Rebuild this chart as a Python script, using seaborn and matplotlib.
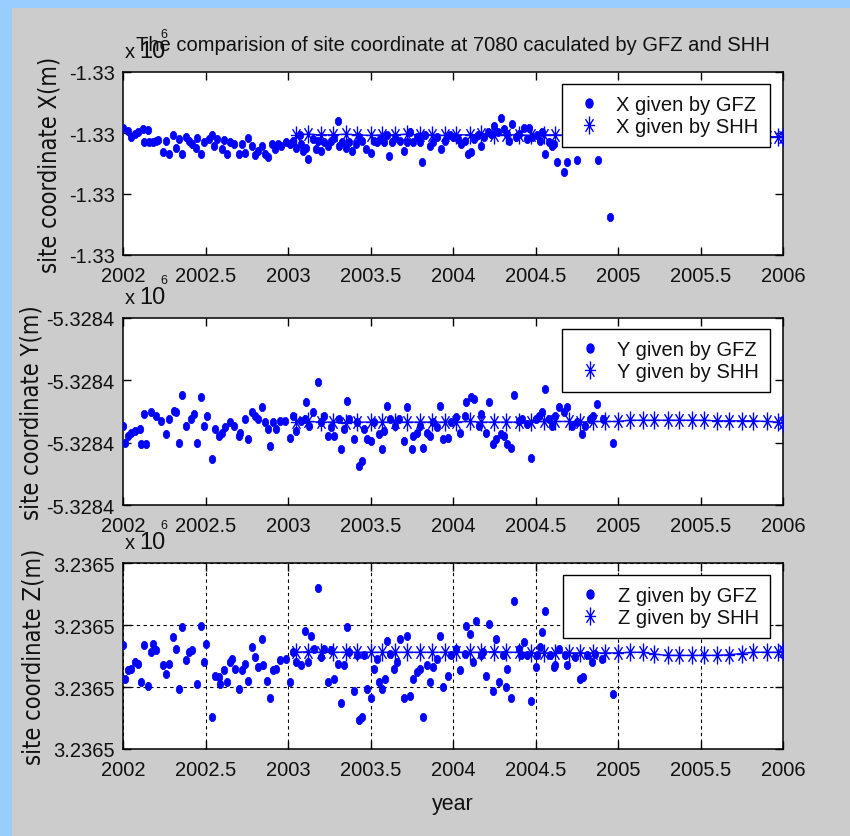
import numpy as np
import matplotlib
matplotlib.use("Agg")
import matplotlib.pyplot as plt
import seaborn as sns
from matplotlib.path import Path
from matplotlib.transforms import Affine2D
from matplotlib.lines import Line2D
from matplotlib.patches import Rectangle

# ---------------- data (values in relative axis units, 0..3 per panel) ----------------
gfz_x_years = [2002.00, 2002.03, 2002.05, 2002.07, 2002.09, 2002.12, 2002.13, 2002.15, 2002.16, 2002.18,
               2002.20, 2002.21, 2002.24, 2002.26, 2002.28, 2002.30, 2002.32, 2002.34, 2002.36, 2002.38,
               2002.40, 2002.42, 2002.44, 2002.45, 2002.47, 2002.49, 2002.52, 2002.54, 2002.55, 2002.57,
               2002.60, 2002.61, 2002.63, 2002.65, 2002.67, 2002.70, 2002.72, 2002.74, 2002.76, 2002.78,
               2002.80, 2002.82, 2002.84, 2002.86, 2002.88, 2002.90, 2002.92, 2002.94, 2002.96, 2002.99,
               2003.01, 2003.03, 2003.05, 2003.07, 2003.08, 2003.09, 2003.11, 2003.12, 2003.15, 2003.17,
               2003.18, 2003.20, 2003.22, 2003.24, 2003.26, 2003.28, 2003.30, 2003.31, 2003.33, 2003.35,
               2003.37, 2003.39, 2003.41, 2003.43, 2003.45, 2003.47, 2003.50, 2003.52, 2003.54, 2003.56,
               2003.58, 2003.60, 2003.61, 2003.63, 2003.65, 2003.68, 2003.70, 2003.72, 2003.74, 2003.76,
               2003.78, 2003.80, 2003.81, 2003.83, 2003.86, 2003.88, 2003.90, 2003.93, 2003.95, 2003.98,
               2004.00, 2004.03, 2004.05, 2004.07, 2004.09, 2004.11, 2004.13, 2004.15, 2004.17, 2004.19,
               2004.21, 2004.23, 2004.25, 2004.27, 2004.29, 2004.31, 2004.33, 2004.34, 2004.36, 2004.38,
               2004.40, 2004.43, 2004.45, 2004.46, 2004.48, 2004.51, 2004.53, 2004.54, 2004.56, 2004.58,
               2004.60, 2004.61, 2004.63, 2004.67, 2004.69, 2004.71, 2004.73, 2004.75, 2004.80, 2004.83,
               2004.86, 2004.88, 2004.92, 2004.95, 2004.98]
gfz_x_vals = [2.08, 2.04, 1.93, 1.98, 2.01, 2.06, 1.85, 2.05, 1.85, 1.85,
              1.87, 1.89, 1.69, 1.87, 1.66, 1.96, 1.75, 1.90, 1.66, 1.93,
              1.87, 1.82, 1.76, 1.91, 1.66, 1.85, 1.90, 1.97, 1.78, 1.90,
              1.73, 1.89, 1.66, 1.85, 1.82, 1.66, 1.82, 1.68, 1.91, 1.78,
              1.64, 1.71, 1.79, 1.66, 1.61, 1.82, 1.74, 1.82, 1.78, 1.85,
              1.82, 1.87, 1.75, 1.96, 1.82, 1.71, 1.75, 1.58, 1.90, 1.74,
              1.87, 1.71, 1.85, 1.79, 1.87, 1.91, 2.20, 1.79, 1.85, 1.75,
              1.85, 1.71, 1.82, 1.93, 1.87, 1.74, 1.68, 1.87, 1.85, 1.90,
              1.85, 1.96, 1.62, 1.85, 1.91, 1.87, 1.71, 1.85, 2.01, 1.85,
              1.93, 1.85, 1.52, 1.96, 1.79, 1.85, 1.93, 1.74, 1.87, 1.96,
              1.93, 1.90, 1.82, 1.87, 1.66, 1.69, 1.90, 1.96, 1.78, 1.93,
              2.01, 1.98, 2.12, 2.01, 2.24, 2.06, 1.98, 1.87, 2.15, 1.93,
              1.98, 2.09, 1.90, 2.09, 1.93, 1.96, 1.87, 2.01, 1.66, 1.85,
              1.79, 1.82, 1.52, 1.36, 1.52, 1.90, 1.85, 1.55, 1.93, 1.88,
              1.95, 1.55, 1.90, 0.62, 1.92]

gfz_y_years = [2002.00, 2002.01, 2002.03, 2002.05, 2002.07, 2002.10, 2002.11, 2002.13, 2002.14, 2002.17,
               2002.20, 2002.23, 2002.26, 2002.28, 2002.31, 2002.32, 2002.34, 2002.36, 2002.38, 2002.41,
               2002.43, 2002.45, 2002.47, 2002.49, 2002.51, 2002.54, 2002.56, 2002.58, 2002.60, 2002.62,
               2002.65, 2002.67, 2002.70, 2002.71, 2002.74, 2002.76, 2002.78, 2002.80, 2002.82, 2002.84,
               2002.86, 2002.88, 2002.89, 2002.91, 2002.93, 2002.95, 2002.98, 2003.01, 2003.03, 2003.05,
               2003.08, 2003.10, 2003.11, 2003.13, 2003.15, 2003.18, 2003.20, 2003.22, 2003.24, 2003.26,
               2003.28, 2003.31, 2003.32, 2003.34, 2003.36, 2003.37, 2003.40, 2003.42, 2003.43, 2003.45,
               2003.46, 2003.48, 2003.50, 2003.52, 2003.55, 2003.57, 2003.58, 2003.60, 2003.62, 2003.65,
               2003.67, 2003.70, 2003.72, 2003.75, 2003.76, 2003.78, 2003.80, 2003.82, 2003.84, 2003.86,
               2003.88, 2003.90, 2003.92, 2003.94, 2003.97, 2003.99, 2004.02, 2004.04, 2004.07, 2004.08,
               2004.11, 2004.13, 2004.16, 2004.17, 2004.20, 2004.22, 2004.24, 2004.26, 2004.29, 2004.31,
               2004.33, 2004.35, 2004.37, 2004.40, 2004.42, 2004.45, 2004.47, 2004.50, 2004.52, 2004.54,
               2004.56, 2004.58, 2004.60, 2004.62, 2004.64, 2004.67, 2004.69, 2004.72, 2004.75, 2004.78,
               2004.80, 2004.83, 2004.85, 2004.87, 2004.91, 2004.97]
gfz_y_vals = [1.27, 1.00, 1.11, 1.16, 1.19, 1.22, 0.98, 1.46, 0.98, 1.49,
              1.43, 1.35, 1.14, 1.38, 1.51, 1.49, 1.00, 1.76, 1.27, 1.38,
              1.46, 1.00, 1.73, 1.27, 1.43, 0.74, 1.22, 1.11, 1.16, 1.25,
              1.33, 1.27, 1.11, 1.16, 1.38, 1.06, 1.49, 1.43, 1.38, 1.57,
              1.33, 1.22, 0.95, 1.33, 1.22, 1.35, 1.35, 1.08, 1.43, 1.19,
              1.35, 1.38, 1.65, 1.27, 1.49, 1.97, 1.33, 1.43, 1.11, 1.25,
              1.11, 1.38, 0.90, 1.22, 1.67, 1.38, 1.06, 1.33, 0.63, 0.71,
              1.22, 1.06, 1.03, 1.33, 1.14, 0.90, 1.19, 1.59, 1.38, 1.27,
              1.38, 1.03, 1.57, 0.90, 1.11, 1.16, 1.27, 0.92, 1.16, 1.11,
              1.33, 1.25, 1.59, 1.06, 1.08, 1.33, 1.41, 1.16, 1.43, 1.65,
              1.73, 1.70, 1.27, 1.46, 1.16, 1.65, 0.98, 1.06, 1.14, 1.11,
              0.98, 0.92, 1.76, 1.35, 1.38, 1.30, 0.76, 1.38, 1.43, 1.49,
              1.86, 1.38, 1.27, 1.43, 1.57, 1.49, 1.57, 1.27, 1.33, 1.14,
              1.27, 1.38, 1.43, 1.62, 1.38, 1.00]

gfz_z_years = [2002.00, 2002.01, 2002.03, 2002.05, 2002.07, 2002.09, 2002.11, 2002.13, 2002.15, 2002.17,
               2002.18, 2002.20, 2002.24, 2002.26, 2002.28, 2002.30, 2002.32, 2002.34, 2002.36, 2002.38,
               2002.40, 2002.42, 2002.45, 2002.47, 2002.49, 2002.50, 2002.54, 2002.56, 2002.58, 2002.59,
               2002.61, 2002.63, 2002.65, 2002.66, 2002.68, 2002.70, 2002.72, 2002.74, 2002.76, 2002.78,
               2002.80, 2002.82, 2002.84, 2002.85, 2002.87, 2002.89, 2002.91, 2002.93, 2002.95, 2002.99,
               2003.01, 2003.03, 2003.05, 2003.08, 2003.10, 2003.12, 2003.14, 2003.16, 2003.18, 2003.20,
               2003.22, 2003.24, 2003.26, 2003.28, 2003.30, 2003.32, 2003.34, 2003.36, 2003.37, 2003.40,
               2003.42, 2003.43, 2003.45, 2003.46, 2003.48, 2003.50, 2003.52, 2003.54, 2003.55, 2003.57,
               2003.59, 2003.60, 2003.62, 2003.64, 2003.66, 2003.68, 2003.70, 2003.72, 2003.74, 2003.76,
               2003.78, 2003.80, 2003.82, 2003.84, 2003.86, 2003.88, 2003.90, 2003.92, 2003.94, 2003.97,
               2003.99, 2004.02, 2004.04, 2004.07, 2004.08, 2004.10, 2004.12, 2004.14, 2004.17, 2004.18,
               2004.20, 2004.22, 2004.24, 2004.26, 2004.28, 2004.30, 2004.32, 2004.33, 2004.35, 2004.37,
               2004.40, 2004.41, 2004.43, 2004.45, 2004.47, 2004.50, 2004.51, 2004.53, 2004.54, 2004.56,
               2004.59, 2004.61, 2004.62, 2004.64, 2004.68, 2004.69, 2004.74, 2004.77, 2004.79, 2004.81,
               2004.84, 2004.86, 2004.90, 2004.97]
gfz_z_vals = [1.67, 1.13, 1.27, 1.29, 1.40, 1.37, 1.08, 1.67, 1.02, 1.56,
              1.70, 1.59, 1.35, 1.21, 1.37, 1.80, 1.62, 0.97, 1.97, 1.43,
              1.56, 1.59, 1.05, 1.99, 1.40, 1.70, 0.51, 1.18, 1.16, 1.05,
              1.27, 1.08, 1.40, 1.45, 1.29, 0.97, 1.27, 1.37, 1.10, 1.64,
              1.48, 1.32, 1.78, 1.35, 1.10, 0.83, 1.27, 1.29, 1.43, 1.45,
              1.08, 1.56, 1.40, 1.35, 1.91, 1.40, 1.83, 1.62, 2.60, 1.48,
              1.62, 1.08, 1.59, 1.13, 1.37, 0.75, 1.35, 1.97, 1.56, 0.94,
              1.51, 0.46, 0.51, 1.51, 0.97, 0.83, 1.29, 1.45, 1.08, 0.97,
              1.13, 1.75, 1.53, 1.29, 1.40, 1.78, 0.83, 1.83, 0.86, 1.13,
              1.24, 1.29, 0.51, 1.35, 1.08, 1.32, 1.45, 1.83, 1.00, 1.18,
              1.51, 1.62, 1.27, 1.53, 1.99, 1.86, 1.40, 2.07, 1.51, 1.56,
              1.18, 2.02, 0.94, 1.78, 1.08, 1.51, 1.00, 1.29, 0.83, 2.38,
              1.62, 1.51, 1.72, 1.51, 0.78, 1.32, 1.51, 1.64, 1.88, 2.22,
              1.51, 1.32, 1.35, 1.62, 1.51, 1.35, 1.48, 1.13, 1.16, 1.51,
              1.40, 1.53, 1.45, 0.89]

shh_years = [2003.05, 2003.12, 2003.20, 2003.27, 2003.35, 2003.42, 2003.50, 2003.57, 2003.65, 2003.72,
             2003.80, 2003.87, 2003.95, 2004.02, 2004.10, 2004.17, 2004.25, 2004.32, 2004.40, 2004.47,
             2004.55, 2004.62, 2004.70, 2004.77, 2004.85, 2004.92, 2005.00, 2005.07, 2005.15, 2005.22,
             2005.30, 2005.37, 2005.45, 2005.52, 2005.60, 2005.67, 2005.75, 2005.82, 2005.90, 2005.97,
             2006.00]
shh_x_vals = [1.97, 1.98, 1.97, 1.97, 1.98, 1.97, 1.96, 1.97, 1.97, 1.98,
              1.97, 1.97, 1.96, 1.97, 1.97, 1.98, 1.97, 1.97, 1.97, 1.96,
              1.97, 1.97, 1.96, 1.96, 1.96, 1.96, 1.95, 1.95, 1.95, 1.95,
              1.95, 1.95, 1.95, 1.94, 1.94, 1.94, 1.94, 1.94, 1.94, 1.94,
              1.94]
shh_y_vals = [1.33, 1.34, 1.33, 1.33, 1.32, 1.33, 1.33, 1.33, 1.33, 1.33,
              1.33, 1.33, 1.33, 1.33, 1.34, 1.33, 1.33, 1.33, 1.33, 1.33,
              1.34, 1.34, 1.34, 1.33, 1.34, 1.34, 1.34, 1.36, 1.36, 1.36,
              1.36, 1.36, 1.36, 1.36, 1.35, 1.35, 1.35, 1.35, 1.34, 1.33,
              1.31]
shh_z_vals = [1.56, 1.57, 1.56, 1.56, 1.56, 1.56, 1.56, 1.56, 1.56, 1.56,
              1.56, 1.56, 1.56, 1.56, 1.56, 1.56, 1.57, 1.56, 1.56, 1.55,
              1.55, 1.55, 1.55, 1.55, 1.55, 1.55, 1.55, 1.56, 1.56, 1.53,
              1.51, 1.51, 1.51, 1.51, 1.51, 1.52, 1.54, 1.56, 1.56, 1.56,
              1.58]

year_ticks = [2002, 2002.5, 2003, 2003.5, 2004, 2004.5, 2005, 2005.5, 2006]
year_tick_labels = ["2002", "2002.5", "2003", "2003.5", "2004", "2004.5", "2005", "2005.5", "2006"]
val_ticks = [0, 1, 2, 3]
x_tick_labels = ["-1.33"] * 4
y_tick_labels = ["-5.3284"] * 4
z_tick_labels = ["3.2365"] * 4

title_text = "The comparision of site coordinate at 7080 caculated by GFZ and SHH"

# ---------------- style ----------------
sns.set_style("ticks")
NARROW = ["Liberation Sans Narrow", "Liberation Sans", "DejaVu Sans"]
plt.rcParams["font.family"] = NARROW
plt.rcParams["font.stretch"] = "condensed"
BLUE = "#0000FF"
TXT = "#111111"
FS = 14.5

W, H = 850, 837
fig = plt.figure(figsize=(W / 100, H / 100), dpi=100)
fig.patch.set_facecolor("#99CCFF")
fig.patches.append(Rectangle((12 / W, 0), 1 - 12 / W, 1 - 9 / H, transform=fig.transFigure,
                             facecolor="#CCCCCC", edgecolor="none", zorder=-10))

# markers
dot_marker = Path.unit_circle().transformed(Affine2D().scale(0.78, 1.0))
star_verts = [(-0.62, 0), (0.62, 0), (0, -1), (0, 1), (-0.44, -0.7), (0.44, 0.7), (-0.44, 0.7), (0.44, -0.7)]
star_codes = [Path.MOVETO, Path.LINETO] * 4
star_marker = Path(star_verts, star_codes)


def px_box(top, bottom, left=123, right=783):
    return [left / W, 1 - bottom / H, (right - left) / W, (bottom - top) / H]


panels = [
    dict(top=73, bottom=256, yrs=gfz_x_years, vals=gfz_x_vals, shh=shh_x_vals, ticklab=x_tick_labels,
         ylabel="site coordinate X(m)", lab_x=50, leg=("X given by GFZ", "X given by SHH"), leg_top=85, grid=False),
    dict(top=319, bottom=506, yrs=gfz_y_years, vals=gfz_y_vals, shh=shh_y_vals, ticklab=y_tick_labels,
         ylabel="site coordinate Y(m)", lab_x=32, leg=("Y given by GFZ", "Y given by SHH"), leg_top=330, grid=False),
    dict(top=564, bottom=750, yrs=gfz_z_years, vals=gfz_z_vals, shh=shh_z_vals, ticklab=z_tick_labels,
         ylabel="site coordinate Z(m)", lab_x=34, leg=("Z given by GFZ", "Z given by SHH"), leg_top=576, grid=True),
]

axes = []
for p in panels:
    ax = fig.add_axes(px_box(p["top"], p["bottom"]))
    ax.set_facecolor("white")
    sns.lineplot(x=shh_years, y=p["shh"], ax=ax, color=BLUE, lw=1.0,
                 marker=star_marker, markersize=13, markeredgewidth=1.0,
                 markeredgecolor=BLUE, markerfacecolor=BLUE, estimator=None, sort=False, zorder=3)
    sns.scatterplot(x=p["yrs"], y=p["vals"], ax=ax, color=BLUE, marker=dot_marker, s=36,
                    edgecolor=BLUE, linewidth=0.5, zorder=4)
    ax.set_xlim(2002, 2006)
    ax.set_ylim(0, 3)
    ax.set_xticks(year_ticks)
    ax.set_xticklabels(year_tick_labels)
    ax.set_yticks(val_ticks)
    ax.set_yticklabels(p["ticklab"])
    ax.tick_params(direction="in", length=6, width=1, top=True, right=True, colors="black",
                   labelcolor=TXT, labelsize=FS)
    ax.tick_params(axis="x", pad=8)
    ax.tick_params(axis="y", pad=6)
    for s in ax.spines.values():
        s.set_color("black")
        s.set_linewidth(1.1)
        s.set_visible(True)
    if p["grid"]:
        ax.grid(True, color="black", linestyle=(0, (3, 3)), linewidth=0.8)
        ax.set_axisbelow(True)
    else:
        ax.grid(False)
    ax.set_xlabel("")
    ax.set_ylabel(p["ylabel"], fontsize=17, family=["DejaVu Sans"], color=TXT)
    ax.yaxis.label.set_rotation_mode("default")
    ax.yaxis.label.set_verticalalignment("center")
    ax.yaxis.label.set_horizontalalignment("center")
    ax.yaxis.set_label_coords((p["lab_x"] - 123) / 660, 0.5)

    handles = [Line2D([], [], ls="none", marker=dot_marker, color=BLUE, markersize=6.5),
               Line2D([], [], ls="none", marker=star_marker, color=BLUE, markersize=13, markeredgewidth=1.0)]
    leg_top_ax = 1 - (p["leg_top"] - p["top"]) / (p["bottom"] - p["top"])
    leg = ax.legend(handles, list(p["leg"]), loc="upper right", bbox_to_anchor=(0.980, leg_top_ax),
                    borderaxespad=0, frameon=True, fancybox=False, framealpha=1, edgecolor="black",
                    fontsize=FS, borderpad=0.55, labelspacing=0.15, handlelength=1.6, handletextpad=0.55)
    leg.get_frame().set_linewidth(1.0)
    for t in leg.get_texts():
        t.set_color(TXT)
    leg.set_zorder(10)

    # "x 10^6" multiplier
    fig.text(125 / W, 1 - (p["top"] - 15) / H, "x", fontsize=FS, color=TXT, va="baseline", ha="left")
    fig.text(139 / W, 1 - (p["top"] - 15) / H, "10", fontsize=17, color=TXT, va="baseline", ha="left")
    fig.text(160 / W, 1 - (p["top"] - 35) / H, "6", fontsize=9, color=TXT, va="baseline", ha="left")
    axes.append(ax)

axes[0].set_title(title_text, fontsize=FS, color=TXT, pad=16)
axes[2].set_xlabel("year", fontsize=FS + 1, color=TXT, labelpad=10)

fig.savefig("out.png", dpi=100, facecolor=fig.get_facecolor())
